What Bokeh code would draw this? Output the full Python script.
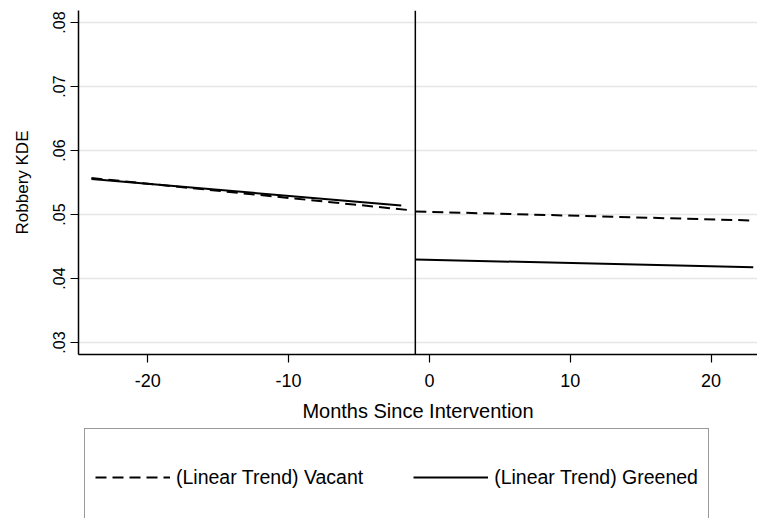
from bokeh.plotting import figure
from bokeh.models import Span, Legend, LegendItem, FixedTicker, Range1d
from bokeh.layouts import column
from bokeh.embed import file_html
from bokeh.resources import INLINE

# ---- data ----
vacant_pre_x = [-24, -1.5]
vacant_pre_y = [0.0557, 0.0507]
greened_pre_x = [-24, -2]
greened_pre_y = [0.05555, 0.0514]
vacant_post_x = [-1, 23]
vacant_post_y = [0.05047, 0.04906]
greened_post_x = [-1, 23]
greened_post_y = [0.04297, 0.04177]
intervention_month = -1

x_ticks = [-20, -10, 0, 10, 20]
x_tick_labels = ["-20", "-10", "0", "10", "20"]
y_ticks = [0.03, 0.04, 0.05, 0.06, 0.07, 0.08]
y_tick_labels = [".03", ".04", ".05", ".06", ".07", ".08"]

FONT = "Liberation Sans"
DASH = "11 6"
X_RANGE = (-24.92, 23.3)
Y_RANGE = (0.028125, 0.081875)

p = figure(width=757, height=424, output_backend="svg", toolbar_location=None,
           x_range=Range1d(*X_RANGE), y_range=Range1d(*Y_RANGE),
           min_border_left=78, min_border_right=0, min_border_top=10,
           min_border_bottom=70)
p.outline_line_color = None
p.background_fill_color = "white"
p.border_fill_color = "white"

p.xgrid.visible = False
p.ygrid.grid_line_color = "#e6e6e6"
p.ygrid.grid_line_width = 1.5

p.xaxis.ticker = FixedTicker(ticks=x_ticks)
p.xaxis.major_label_overrides = {t: l for t, l in zip(x_ticks, x_tick_labels)}
p.yaxis.ticker = FixedTicker(ticks=y_ticks)
p.yaxis.major_label_overrides = {t: l for t, l in zip(y_ticks, y_tick_labels)}
p.yaxis.major_label_orientation = "vertical"

for ax in (p.xaxis[0], p.yaxis[0]):
    ax.axis_line_color = "black"
    ax.axis_line_width = 1.5
    ax.major_tick_line_color = "black"
    ax.major_tick_line_width = 1.2
    ax.major_tick_out = 8
    ax.major_tick_in = 0
    ax.minor_tick_line_color = None
    ax.major_label_text_font = FONT
    ax.major_label_text_color = "black"
    ax.axis_label_text_font = FONT
    ax.axis_label_text_font_style = "normal"
    ax.axis_label_text_color = "black"

p.xaxis.major_label_text_font_size = "18px"
p.xaxis.axis_label_text_font_size = "20px"
p.xaxis.major_label_standoff = 11
p.xaxis.axis_label_standoff = 10
p.xaxis.axis_label = "Months Since Intervention"

p.yaxis.major_label_text_font_size = "16px"
p.yaxis.axis_label_text_font_size = "17px"
p.yaxis.major_label_standoff = 6
p.yaxis.axis_label_standoff = 18
p.yaxis.axis_label = "Robbery KDE"

p.line(vacant_pre_x, vacant_pre_y, line_color="black", line_width=2, line_dash=DASH)
p.line(greened_pre_x, greened_pre_y, line_color="black", line_width=2)
p.line(vacant_post_x, vacant_post_y, line_color="black", line_width=2, line_dash=DASH)
p.line(greened_post_x, greened_post_y, line_color="black", line_width=2)

p.add_layout(Span(location=intervention_month, dimension="height",
                  line_color="black", line_width=1.5))

# ---- legend panel below (its ranges keep the series out of view; only the legend shows) ----
p2 = figure(width=757, height=94, output_backend="svg", toolbar_location=None,
            x_axis_type=None, y_axis_type=None,
            x_range=Range1d(100, 101), y_range=Range1d(100, 101),
            min_border_left=0, min_border_right=0, min_border_top=0,
            min_border_bottom=0)
p2.outline_line_color = None
p2.grid.visible = False
p2.border_fill_color = "white"
p2.background_fill_color = "white"

lv = p2.line(vacant_post_x, vacant_post_y, line_color="black", line_width=2, line_dash=DASH)
lg = p2.line(greened_post_x, greened_post_y, line_color="black", line_width=2)

legend = Legend(items=[
    LegendItem(label="(Linear Trend) Vacant", renderers=[lv]),
    LegendItem(label="(Linear Trend) Greened", renderers=[lg]),
], orientation="horizontal", location=(6, -8))
legend.glyph_width = 75
legend.glyph_height = 76
legend.label_standoff = 6
legend.spacing = 50
legend.padding = 10
legend.margin = 0
legend.border_line_color = "#333333"
legend.border_line_width = 1.5
legend.label_text_font = FONT
legend.label_text_font_size = "19.5px"
legend.label_text_color = "black"
legend.background_fill_color = "white"
legend.background_fill_alpha = 1.0
p2.add_layout(legend, "center")

open("out.html", "w").write(file_html(column(p, p2, spacing=0), INLINE))
